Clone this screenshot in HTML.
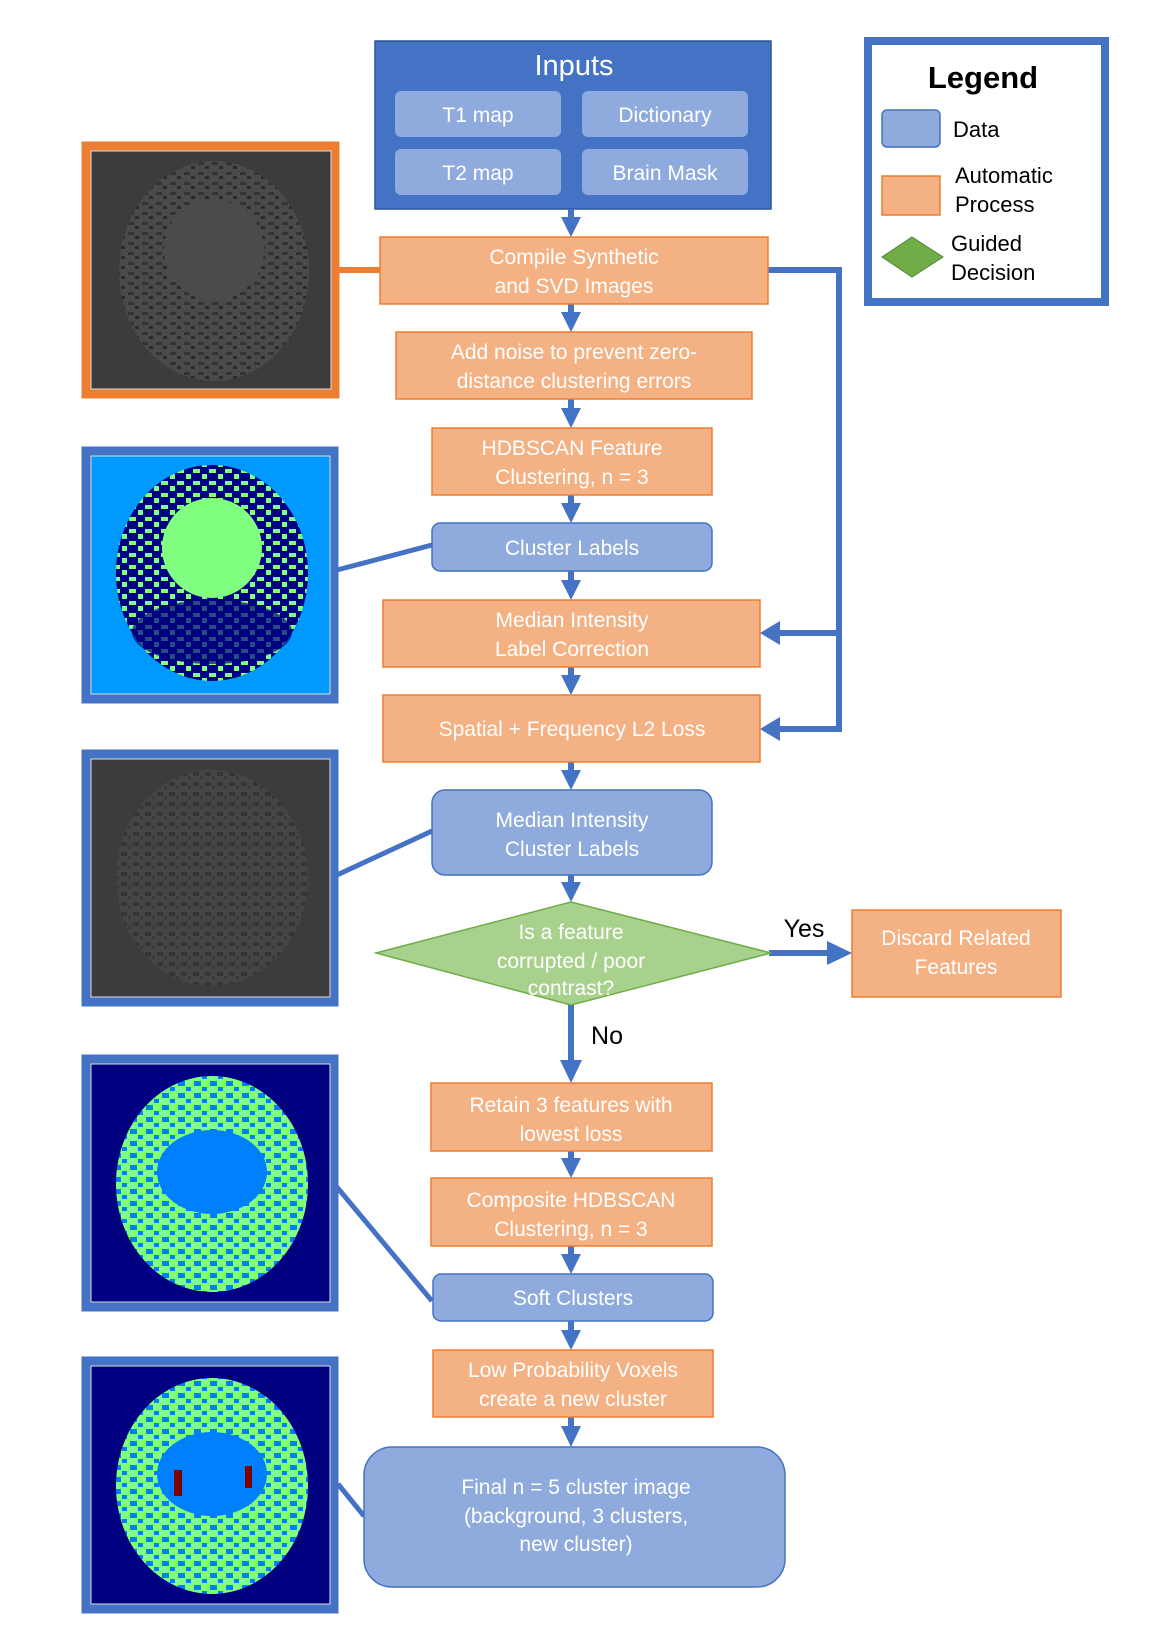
<!DOCTYPE html>
<html><head><meta charset="utf-8"><style>
html,body{margin:0;padding:0;background:#fff;}
svg{display:block;}
text{font-family:"Liberation Sans",sans-serif;}
.w{fill:#fff;font-size:21px;text-anchor:middle;}
</style></head><body>
<svg width="1152" height="1632" viewBox="0 0 1152 1632" xmlns="http://www.w3.org/2000/svg">
<defs>
<pattern id="pg" width="14" height="10" patternUnits="userSpaceOnUse">
<rect width="14" height="10" fill="#4a4a4a"/><rect x="2" y="2" width="6" height="3" fill="#333"/><rect x="9" y="6" width="4" height="3" fill="#2a2a2a"/>
</pattern>
<pattern id="pg3" width="12" height="10" patternUnits="userSpaceOnUse">
<rect width="12" height="10" fill="#454545"/><rect x="1" y="2" width="6" height="4" fill="#353535"/><rect x="8" y="6" width="3" height="3" fill="#383838"/>
</pattern>
<pattern id="pc" width="16" height="12" patternUnits="userSpaceOnUse">
<rect width="16" height="12" fill="#000080"/><rect x="1" y="1" width="7" height="4" fill="#80ff80"/><rect x="10" y="6" width="5" height="5" fill="#80ff80"/>
</pattern>
<pattern id="pb" width="16" height="12" patternUnits="userSpaceOnUse">
<rect width="16" height="12" fill="#80ff80"/><rect x="2" y="1" width="7" height="5" fill="#0080ff"/><rect x="10" y="7" width="5" height="4" fill="#0080ff"/>
</pattern>
</defs>

<!-- Images -->
<g>
<rect x="86" y="146" width="249" height="248" fill="none" stroke="#ed7d31" stroke-width="9"/>
<rect x="91" y="151" width="240" height="238" fill="#3c3c3c" stroke="#ddd" stroke-width="1"/>
<ellipse cx="214" cy="271" rx="95" ry="110" fill="url(#pg)"/>
<ellipse cx="214" cy="250" rx="50" ry="50" fill="#4b4b4b"/>
</g>
<g>
<rect x="86" y="451" width="248" height="248" fill="none" stroke="#4472c4" stroke-width="9"/>
<rect x="91" y="456" width="239" height="238" fill="#0099ff" stroke="#ddd" stroke-width="1"/>
<ellipse cx="212" cy="573" rx="96" ry="108" fill="url(#pc)"/>
<ellipse cx="212" cy="548" rx="50" ry="50" fill="#80ff80"/>
<ellipse cx="212" cy="632" rx="80" ry="32" fill="#000080" opacity="0.7"/>
</g>
<g>
<rect x="86" y="754" width="248" height="248" fill="none" stroke="#4472c4" stroke-width="9"/>
<rect x="91" y="759" width="239" height="238" fill="#3c3c3c" stroke="#ddd" stroke-width="1"/>
<ellipse cx="212" cy="878" rx="96" ry="108" fill="url(#pg3)"/>
</g>
<g>
<rect x="86" y="1059" width="248" height="248" fill="none" stroke="#4472c4" stroke-width="9"/>
<rect x="91" y="1064" width="239" height="238" fill="#000080" stroke="#ddd" stroke-width="1"/>
<ellipse cx="212" cy="1184" rx="96" ry="108" fill="url(#pb)"/>
<ellipse cx="212" cy="1172" rx="55" ry="42" fill="#0080ff"/>
</g>
<g>
<rect x="86" y="1361" width="248" height="248" fill="none" stroke="#4472c4" stroke-width="9"/>
<rect x="91" y="1366" width="239" height="238" fill="#000080" stroke="#ddd" stroke-width="1"/>
<ellipse cx="212" cy="1486" rx="96" ry="108" fill="url(#pb)"/>
<ellipse cx="212" cy="1474" rx="55" ry="42" fill="#0080ff"/>
<rect x="174" y="1470" width="8" height="26" fill="#800000"/>
<rect x="245" y="1466" width="7" height="22" fill="#800000"/>
</g>

<!-- image connectors -->
<line x1="339" y1="270" x2="381" y2="270" stroke="#ed7d31" stroke-width="6"/>
<line x1="337" y1="570" x2="432" y2="545" stroke="#4472c4" stroke-width="5"/>
<line x1="337" y1="875" x2="432" y2="831" stroke="#4472c4" stroke-width="5"/>
<line x1="336" y1="1186" x2="432" y2="1301" stroke="#4472c4" stroke-width="5"/>
<line x1="338" y1="1484" x2="364" y2="1516" stroke="#4472c4" stroke-width="5"/>

<g transform="translate(-9,0)">
<!-- Legend -->
<rect x="877" y="41" width="237" height="261" fill="#fff" stroke="#4472c4" stroke-width="8"/>
<text x="992" y="88" font-size="31" font-weight="bold" text-anchor="middle" fill="#000">Legend</text>
<rect x="891" y="110" width="58" height="37" rx="5" fill="#8faadc" stroke="#4472c4" stroke-width="1.5"/>
<text x="962" y="137" font-size="22" fill="#000">Data</text>
<rect x="891" y="176" width="58" height="39" fill="#f4b183" stroke="#ed7d31" stroke-width="1.5"/>
<text x="964" y="183" font-size="22" fill="#000">Automatic</text>
<text x="964" y="212" font-size="22" fill="#000">Process</text>
<polygon points="921,237 952,257 921,277 891,257" fill="#70ad47" stroke="#548235" stroke-width="1"/>
<text x="960" y="251" font-size="22" fill="#000">Guided</text>
<text x="960" y="280" font-size="22" fill="#000">Decision</text>
</g>

<g transform="translate(-4,0)">
<!-- Inputs -->
<rect x="379" y="41" width="396" height="168" fill="#4472c4" stroke="#2f5597" stroke-width="1.5"/>
<text x="578" y="75" fill="#fff" font-size="29" text-anchor="middle">Inputs</text>
<rect x="399" y="91" width="166" height="46" rx="6" fill="#8faadc"/>
<rect x="586" y="91" width="166" height="46" rx="6" fill="#8faadc"/>
<rect x="399" y="149" width="166" height="46" rx="6" fill="#8faadc"/>
<rect x="586" y="149" width="166" height="46" rx="6" fill="#8faadc"/>
<text class="w" x="482" y="122">T1 map</text>
<text class="w" x="669" y="122">Dictionary</text>
<text class="w" x="482" y="180">T2 map</text>
<text class="w" x="669" y="180">Brain Mask</text>

<!-- vertical arrows -->
<g stroke="#4472c4" stroke-width="6" fill="#4472c4">
<line x1="575" y1="209" x2="575" y2="222"/><polygon stroke="none" points="565,217 585,217 575,237"/>
<line x1="575" y1="304" x2="575" y2="318"/><polygon stroke="none" points="565,312 585,312 575,332"/>
<line x1="575" y1="399" x2="575" y2="414"/><polygon stroke="none" points="565,408 585,408 575,428"/>
<line x1="575" y1="495" x2="575" y2="509"/><polygon stroke="none" points="565,503 585,503 575,523"/>
<line x1="575" y1="571" x2="575" y2="586"/><polygon stroke="none" points="565,580 585,580 575,600"/>
<line x1="575" y1="667" x2="575" y2="681"/><polygon stroke="none" points="565,675 585,675 575,695"/>
<line x1="575" y1="762" x2="575" y2="776"/><polygon stroke="none" points="565,770 585,770 575,790"/>
<line x1="575" y1="875" x2="575" y2="888"/><polygon stroke="none" points="565,882 585,882 575,902"/>
<line x1="575" y1="1005" x2="575" y2="1066"/><polygon stroke="none" points="564,1060 586,1060 575,1083"/>
<line x1="575" y1="1151" x2="575" y2="1164"/><polygon stroke="none" points="565,1158 585,1158 575,1178"/>
<line x1="575" y1="1246" x2="575" y2="1260"/><polygon stroke="none" points="565,1254 585,1254 575,1274"/>
<line x1="575" y1="1321" x2="575" y2="1336"/><polygon stroke="none" points="565,1330 585,1330 575,1350"/>
<line x1="575" y1="1417" x2="575" y2="1432"/><polygon stroke="none" points="565,1426 585,1426 575,1447"/>
</g>
<!-- right loop -->
<polyline points="772,270 843,270 843,729 782,729" fill="none" stroke="#4472c4" stroke-width="6"/>
<line x1="843" y1="633" x2="782" y2="633" stroke="#4472c4" stroke-width="6"/>
<polygon points="784,621 784,645 764,633" fill="#4472c4"/>
<polygon points="784,717 784,741 764,729" fill="#4472c4"/>
<!-- yes arrow -->
<line x1="773" y1="953" x2="836" y2="953" stroke="#4472c4" stroke-width="6"/>
<polygon points="831,941 831,965 856,953" fill="#4472c4"/>
<text x="808" y="937" font-size="25" text-anchor="middle" fill="#000">Yes</text>
<text x="611" y="1044" font-size="25" text-anchor="middle" fill="#000">No</text>

<!-- boxes -->
<g stroke="#ed7d31" stroke-width="1.5" fill="#f4b183">
<rect x="384" y="237" width="388" height="67"/>
<rect x="400" y="332" width="356" height="67"/>
<rect x="436" y="428" width="280" height="67"/>
<rect x="387" y="600" width="377" height="67"/>
<rect x="387" y="695" width="377" height="67"/>
<rect x="856" y="910" width="209" height="87"/>
<rect x="435" y="1083" width="281" height="68"/>
<rect x="435" y="1178" width="281" height="68"/>
<rect x="437" y="1350" width="280" height="67"/>
</g>
<g stroke="#4472c4" stroke-width="1.5" fill="#8faadc">
<rect x="436" y="523" width="280" height="48" rx="8"/>
<rect x="436" y="790" width="280" height="85" rx="13"/>
<rect x="437" y="1274" width="280" height="47" rx="8"/>
<rect x="368" y="1447" width="421" height="140" rx="28"/>
</g>
<polygon points="380,953 575,902 775,953 575,1005" fill="#a9d18e" stroke="#70ad47" stroke-width="1.5"/>

<text class="w" x="578" y="264">Compile Synthetic</text>
<text class="w" x="578" y="293">and SVD Images</text>
<text class="w" x="578" y="359">Add noise to prevent zero-</text>
<text class="w" x="578" y="388">distance clustering errors</text>
<text class="w" x="576" y="455">HDBSCAN Feature</text>
<text class="w" x="576" y="484">Clustering, n = 3</text>
<text class="w" x="576" y="555">Cluster Labels</text>
<text class="w" x="576" y="627">Median Intensity</text>
<text class="w" x="576" y="656">Label  Correction</text>
<text class="w" x="576" y="736">Spatial + Frequency L2 Loss</text>
<text class="w" x="576" y="827">Median Intensity</text>
<text class="w" x="576" y="856">Cluster Labels</text>
<text class="w" x="575" y="939">Is a feature</text>
<text class="w" x="575" y="968">corrupted / poor</text>
<text class="w" x="575" y="995">contrast?</text>
<text class="w" x="960" y="945">Discard Related</text>
<text class="w" x="960" y="974">Features</text>
<text class="w" x="575" y="1112">Retain 3 features with</text>
<text class="w" x="575" y="1141">lowest loss</text>
<text class="w" x="575" y="1207">Composite HDBSCAN</text>
<text class="w" x="575" y="1236">Clustering, n = 3</text>
<text class="w" x="577" y="1305">Soft Clusters</text>
<text class="w" x="577" y="1377">Low Probability Voxels</text>
<text class="w" x="577" y="1406">create a new cluster</text>
<text class="w" x="580" y="1494">Final n = 5 cluster image</text>
<text class="w" x="580" y="1523">(background, 3 clusters,</text>
<text class="w" x="580" y="1551">new cluster)</text>
</g>
</svg>
</body></html>
